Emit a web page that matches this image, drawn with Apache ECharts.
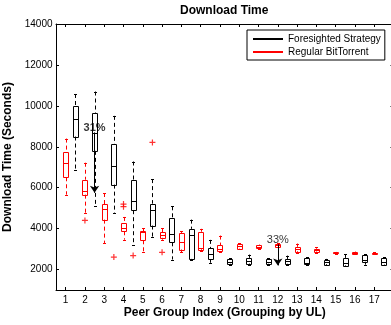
<!DOCTYPE html>
<html>
<head>
<meta charset="utf-8">
<script src="https://cdn.jsdelivr.net/npm/echarts@6/dist/echarts.min.js"></script>
<style>
  html, body { margin: 0; padding: 0; background: #fff; }
  #chart { width: 391px; height: 325px; }
</style>
</head>
<body>
<div id="chart"></div>
<script>
// peer groups (grouping by UL)
const groups = [1, 2, 3, 4, 5, 6, 7, 8, 9, 10, 11, 12, 13, 14, 15, 16, 17];
const yTicks = [2000, 4000, 6000, 8000, 10000, 12000, 14000];

// [min, Q1, median, Q3, max] per group, seconds
const foresighted = [
  [6880, 8500, 9350, 10000, 10580],
  [5120, 7800, 8670, 9640, 10700],
  [4760, 6150, 7070, 8130, 9510],
  [3220, 4900, 5330, 6370, 7280],
  [3600, 4150, 4890, 5220, 6420],
  [2490, 3330, 3740, 4520, 5090],
  [2490, 2520, 3710, 3990, 4440],
  [2330, 2510, 2760, 3050, 3450],
  [2240, 2280, 2390, 2520, 2540],
  [2240, 2290, 2420, 2570, 2730],
  [2230, 2280, 2390, 2510, 2540],
  [2230, 2280, 2400, 2520, 2680],
  [2200, 2260, 2300, 2570, 2590],
  [2200, 2260, 2370, 2490, 2520],
  [2150, 2200, 2330, 2570, 2760],
  [2240, 2380, 2490, 2730, 2760],
  [2200, 2240, 2370, 2570, 2600]
];
const regular = [
  [5660, 6510, 7200, 7750, 8400],
  [4780, 5660, 5820, 6390, 7220],
  [3300, 4440, 4960, 5200, 5740],
  [3460, 3870, 4030, 4280, 4570],
  [2880, 3430, 3820, 3870, 4030],
  [3460, 3550, 3710, 3820, 4030],
  [2840, 2980, 3350, 3790, 3870],
  [2930, 2990, 3070, 3850, 3990],
  [2880, 2890, 3000, 3200, 3660],
  [2980, 3020, 3140, 3250, 3280],
  [3000, 3030, 3120, 3190, 3220],
  [3100, 3140, 3200, 3270, 3300],
  [2810, 2890, 3000, 3110, 3270],
  [2820, 2880, 2940, 3020, 3080],
  [2760, 2780, 2810, 2840, 2860],
  [2740, 2760, 2810, 2860, 2880],
  [2780, 2790, 2810, 2830, 2840]
];

// outliers: [group, value]
const foresightedOutliers = [[3, 2610], [4, 2680], [5, 8210]];
const regularOutliers = [[2, 4400], [4, 5200], [4, 5070], [6, 2840]];

// annotations
const noteX = [2.5, 12];
const noteY = [8940, 3460];
const noteText = ['31%', '33%'];
const noteWeight = ['bold', 'normal'];
const arrowFrom = [8700, 3230];
const arrowTo = [5750, 2200];

const FONT = "'Liberation Sans', Arial, sans-serif";
const boxW = 0.27;

function crisp(v) { return Math.round(v) + 0.5; }

function makeBoxRenderer(color) {
  return function (params, api) {
    const x = api.value(0);
    const pMin = api.coord([x, api.value(1)]);
    const pQ1 = api.coord([x, api.value(2)]);
    const pMed = api.coord([x, api.value(3)]);
    const pQ3 = api.coord([x, api.value(4)]);
    const pMax = api.coord([x, api.value(5)]);
    const w = Math.round(api.size([boxW, 0])[0]);
    const cx = crisp(pMin[0]);
    const left = Math.round(pMin[0] - w / 2) + 0.5;
    const cap = Math.max(1.5, Math.round(w / 2) / 2);
    const solid = { stroke: color, lineWidth: 1, fill: null };
    const dashed = { stroke: color, lineWidth: 1, lineDash: [4, 3], fill: null };
    return {
      type: 'group',
      children: [
        { type: 'line', shape: { x1: cx, y1: pMax[1], x2: cx, y2: pQ3[1] }, style: dashed },
        { type: 'line', shape: { x1: cx, y1: pQ1[1], x2: cx, y2: pMin[1] }, style: dashed },
        { type: 'line', shape: { x1: cx - cap, y1: crisp(pMax[1]), x2: cx + cap, y2: crisp(pMax[1]) }, style: solid },
        { type: 'line', shape: { x1: cx - cap, y1: crisp(pMin[1]), x2: cx + cap, y2: crisp(pMin[1]) }, style: solid },
        { type: 'rect', shape: { x: left, y: crisp(pQ3[1]), width: w, height: Math.max(1, Math.round(pQ1[1] - pQ3[1])) }, style: solid },
        { type: 'line', shape: { x1: left, y1: crisp(pMed[1]), x2: left + w, y2: crisp(pMed[1]) }, style: solid }
      ]
    };
  };
}

const plusPath = 'path://M4,0H6V4H10V6H6V10H4V6H0V4H4Z';

const chart = echarts.init(document.getElementById('chart'));

const axisCommon = {
  type: 'value',
  splitLine: { show: false },
  axisLine: { show: true, onZero: false, lineStyle: { color: '#000', width: 1 } },
  axisTick: { show: true, inside: true, length: 3, lineStyle: { color: '#000' } }
};

chart.setOption({
  animation: false,
  title: {
    text: 'Download Time',
    left: 180,
    top: 5,
    padding: 0,
    textStyle: { fontFamily: FONT, fontSize: 12, fontWeight: 'bold', color: '#000' }
  },
  legend: {
    orient: 'vertical',
    left: 247,
    top: 30,
    padding: [3, 4, 2, 6],
    itemGap: 1,
    itemWidth: 30,
    itemHeight: 2,
    selectedMode: false,
    borderColor: '#000',
    borderWidth: 1,
    borderRadius: 0,
    backgroundColor: '#fff',
    textStyle: { fontFamily: FONT, fontSize: 10, color: '#000', lineHeight: 12 },
    data: [
      { name: 'Foresighted Strategy', icon: 'rect', itemStyle: { color: '#000' } },
      { name: 'Regular BitTorrent', icon: 'rect', itemStyle: { color: '#f00' } }
    ]
  },
  grid: { left: 56, top: 24, width: 337.5, height: 266, containLabel: false, outerBoundsMode: 'none' },
  xAxis: [
    Object.assign({}, axisCommon, {
      position: 'bottom',
      min: 0.5,
      max: 18,
      axisTick: Object.assign({}, axisCommon.axisTick, { customValues: groups }),
      axisLabel: { customValues: groups, fontFamily: FONT, fontSize: 10, color: '#000', margin: 5 },
      name: 'Peer Group Index (Grouping by UL)',
      nameLocation: 'middle',
      nameGap: 17,
      nameMoveOverlap: false,
      nameTextStyle: { fontFamily: FONT, fontSize: 12, fontWeight: 'bold', color: '#000' }
    }),
    Object.assign({}, axisCommon, {
      position: 'top',
      min: 0.5,
      max: 18,
      axisTick: Object.assign({}, axisCommon.axisTick, { customValues: groups }),
      axisLabel: { show: false }
    })
  ],
  yAxis: [
    Object.assign({}, axisCommon, {
      position: 'left',
      min: 1000,
      max: 14000,
      axisTick: Object.assign({}, axisCommon.axisTick, { customValues: yTicks }),
      axisLabel: {
        customValues: yTicks,
        formatter: v => String(v),
        fontFamily: FONT, fontSize: 10, color: '#000', margin: 3.5
      },
      name: 'Download Time (Seconds)',
      nameLocation: 'middle',
      nameGap: 6,
      nameTextStyle: { fontFamily: FONT, fontSize: 12, fontWeight: 'bold', color: '#000' }
    }),
    Object.assign({}, axisCommon, {
      position: 'right',
      min: 1000,
      max: 14000,
      axisTick: Object.assign({}, axisCommon.axisTick, { customValues: yTicks }),
      axisLabel: { show: false }
    })
  ],
  series: [
    {
      name: 'Foresighted Strategy',
      type: 'custom',
      itemStyle: { color: '#000' },
      renderItem: makeBoxRenderer('#000'),
      encode: { x: 0, y: [1, 2, 3, 4, 5] },
      data: groups.map((g, i) => [g + 0.5].concat(foresighted[i])),
      z: 3
    },
    {
      name: 'Regular BitTorrent',
      type: 'custom',
      itemStyle: { color: '#f00' },
      renderItem: makeBoxRenderer('#f00'),
      encode: { x: 0, y: [1, 2, 3, 4, 5] },
      data: groups.map((g, i) => [g].concat(regular[i])),
      z: 3
    },
    {
      name: 'outliers',
      type: 'scatter',
      symbol: plusPath,
      symbolSize: 6,
      itemStyle: { color: '#f00' },
      data: foresightedOutliers.map(o => [o[0] + 0.5, o[1]])
        .concat(regularOutliers.map(o => [o[0], o[1]])),
      z: 4
    },
    {
      name: 'notes',
      type: 'scatter',
      symbolSize: 0,
      itemStyle: { color: '#000' },
      data: noteX.map((x, i) => ({
        value: [x, noteY[i]],
        name: noteText[i],
        label: { fontWeight: noteWeight[i], color: '#000' }
      })),
      label: {
        show: true,
        position: 'inside',
        formatter: p => p.name,
        fontFamily: FONT,
        fontSize: 11,
        color: '#000',
        textBorderWidth: 0
      },
      markLine: {
        silent: true,
        symbol: ['none', 'arrow'],
        symbolSize: 7,
        label: { show: false },
        lineStyle: { color: '#000', width: 1, type: 'solid' },
        data: noteX.map((x, i) => [
          { coord: [x, arrowFrom[i]] },
          { coord: [x, arrowTo[i]] }
        ])
      },
      z: 5
    }
  ]
});
</script>
</body>
</html>
